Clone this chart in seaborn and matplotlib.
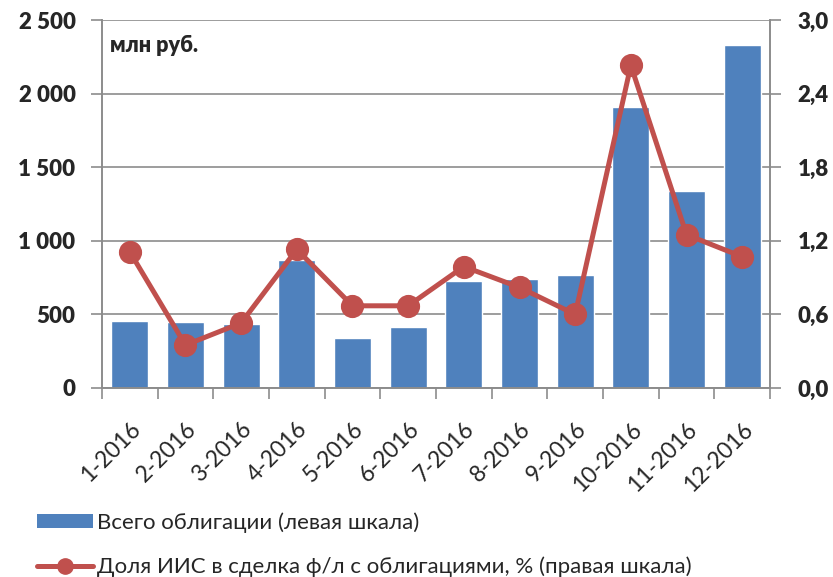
import matplotlib
matplotlib.use("Agg")
import matplotlib.pyplot as plt
import seaborn as sns
import pandas as pd
from matplotlib.patches import Patch
from matplotlib.lines import Line2D

months = ["1-2016", "2-2016", "3-2016", "4-2016", "5-2016", "6-2016",
          "7-2016", "8-2016", "9-2016", "10-2016", "11-2016", "12-2016"]
bonds_total = [453, 449, 435, 868, 342, 417, 730, 741, 766, 1909, 1337, 2328]
iis_share = [1.11, 0.35, 0.53, 1.13, 0.67, 0.67, 0.99, 0.82, 0.60, 2.63, 1.25, 1.07]
left_ticks = [0, 500, 1000, 1500, 2000, 2500]
left_tick_labels = ["0", "500", "1 000", "1 500", "2 000", "2 500"]
right_ticks = [0.0, 0.6, 1.2, 1.8, 2.4, 3.0]
right_tick_labels = ["0,0", "0,6", "1,2", "1,8", "2,4", "3,0"]
bar_label = "Всего облигации (левая шкала)"
line_label = "Доля ИИС в сделка ф/л с облигациями, % (правая шкала)"
unit_label = "млн руб."

sns.set_style("white")
plt.rcParams["font.family"] = ["Lato", "DejaVu Sans"]

df = pd.DataFrame({"month": months, "bonds": bonds_total, "share": iis_share})

fig = plt.figure(figsize=(8.33, 5.77), dpi=100)
ax = fig.add_axes([0.1224, 0.3276, 0.802, 0.6377])
bar_color = "#4F81BD"
line_color = "#C0504D"
grid_color = "#8C8C8C"

sns.barplot(data=df, x="month", y="bonds", color=bar_color, width=0.66,
            saturation=1, ax=ax, zorder=2)
ax.set_ylim(0, 2500)
ax.set_yticks(left_ticks)
ax.set_yticklabels(left_tick_labels, fontweight="heavy", fontsize=16)
ax.set_xlim(-0.5, len(months) - 0.5)
ax.grid(axis="y", color=grid_color, linewidth=1.2, zorder=0)
ax.set_axisbelow(True)
ax.set_xlabel("")
ax.set_ylabel("")

ax2 = ax.twinx()
sns.pointplot(data=df, x="month", y="share", color=line_color, ax=ax2,
              markers="o", markersize=14, linewidth=3.6)
ax2.set_ylim(0, 3.0)
ax2.set_yticks(right_ticks)
ax2.set_yticklabels(right_tick_labels, fontweight="heavy", fontsize=16)
ax2.set_ylabel("")
ax2.set_xlabel("")
ax2.set_xlim(-0.5, len(months) - 0.5)

for a in (ax, ax2):
    a.spines["top"].set_visible(False)
    for s in ["left", "right", "bottom"]:
        a.spines[s].set_color(grid_color)
        a.spines[s].set_linewidth(1.2)

ax.tick_params(axis="y", which="both", left=True, length=8, width=1.2,
               color=grid_color, pad=11)
ax2.tick_params(axis="y", which="both", right=True, length=8, width=1.2,
                color=grid_color, pad=12)

ax.set_xticks(range(len(months)))
ax.set_xticklabels(months, rotation=45, ha="right", rotation_mode="anchor", fontsize=16.5)
ax.tick_params(axis="x", which="major", bottom=False, length=0, pad=22)
ax.set_xticks([i - 0.5 for i in range(len(months) + 1)], minor=True)
ax.tick_params(axis="x", which="minor", bottom=True, length=8, width=1.2, color=grid_color)
ax2.tick_params(axis="x", which="both", bottom=False, top=False, labelbottom=False, labeltop=False)

ax.text(0.012, 0.932, unit_label, transform=ax.transAxes, fontsize=15.5,
        fontweight="heavy", va="center", ha="left")

handles = [Patch(facecolor=bar_color, edgecolor="none"),
           Line2D([0], [0], color=line_color, linewidth=3.6, marker="o", markersize=11)]
fig.legend(handles, [bar_label, line_label], loc="upper left",
           bbox_to_anchor=(0.034, 0.127), frameon=False, fontsize=16,
           handlelength=2.5, handleheight=0.6, handletextpad=0.2,
           labelspacing=1.05, borderaxespad=0)

fig.savefig("out.png", dpi=100)
